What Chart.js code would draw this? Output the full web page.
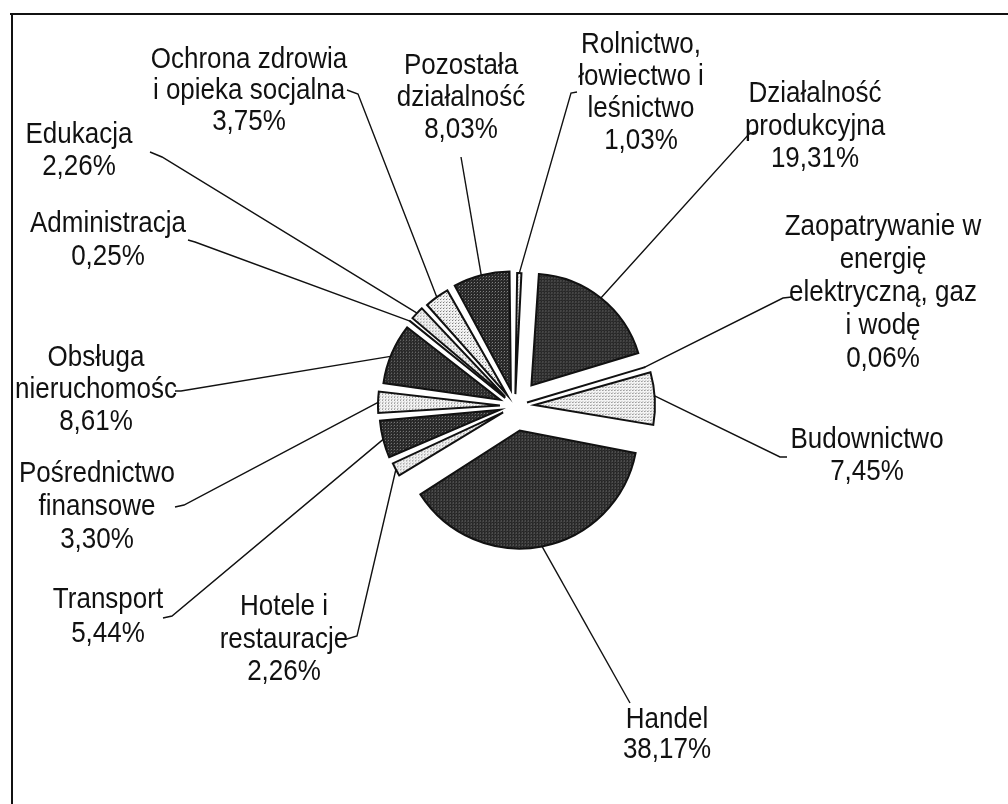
<!DOCTYPE html>
<html>
<head>
<meta charset="utf-8">
<script src="https://cdn.jsdelivr.net/npm/chart.js@4.4.0/dist/chart.umd.min.js"></script>
<style>
    html, body { margin: 0; padding: 0; background: #fff; }
</style>
</head>
<body>
<canvas id="pieChart" width="1008" height="804"></canvas>
<script>
// dane wykresu (kolejnosc zgodna z ruchem wskazowek zegara od gory)
var categories = ['Rolnictwo, łowiectwo i leśnictwo', 'Działalność produkcyjna',
    'Zaopatrywanie w energię elektryczną, gaz i wodę', 'Budownictwo', 'Handel',
    'Hotele i restauracje', 'Transport', 'Pośrednictwo finansowe', 'Obsługa nieruchomośc',
    'Administracja', 'Edukacja', 'Ochrona zdrowia i opieka socjalna', 'Pozostała działalność'];
var values = [1.03, 19.31, 0.06, 7.45, 38.17, 2.26, 5.44, 3.30, 8.61, 0.25, 2.26, 3.75, 8.03];
var labelLines = [
    ['Rolnictwo,', 'łowiectwo i', 'leśnictwo'],
    ['Działalność', 'produkcyjna'],
    ['Zaopatrywanie w', 'energię', 'elektryczną, gaz', 'i wodę'],
    ['Budownictwo'],
    ['Handel'],
    ['Hotele i', 'restauracje'],
    ['Transport'],
    ['Pośrednictwo', 'finansowe'],
    ['Obsługa', 'nieruchomośc'],
    ['Administracja'],
    ['Edukacja'],
    ['Ochrona zdrowia', 'i opieka socjalna'],
    ['Pozostała', 'działalność']
];

// wyglad
var shade = ['light', 'dark', 'light', 'light', 'dark', 'light', 'dark', 'light', 'dark', 'light', 'light', 'light', 'dark'];
var explode = [23, 28, 25, 30, 33, 25, 26, 27, 24, 25, 25, 24, 25];

// polozenie opisow: srodek x, pierwsza linia bazowa y, odstep, punkty linii odniesienia, t = miejsce na luku
var labelPos = [
    { x: 641, y: 53, dy: 32, lead: [[577, 92], [571, 93]], t: 0.5 },
    { x: 815, y: 102, dy: 32.5, lead: [[757, 131], [749, 134]], t: 0.5 },
    { x: 883, y: 235, dy: 33, lead: [[792, 297], [783, 298]], t: 0.5 },
    { x: 867, y: 448, dy: 32, lead: [[787, 457], [780, 457]], t: 0.45 },
    { x: 667, y: 728, dy: 30, lead: [[630, 703]], t: 0.5 },
    { x: 284, y: 615, dy: 32.5, lead: [[347, 639], [357, 636]], t: 0.5 },
    { x: 108, y: 608, dy: 34, lead: [[163, 618], [172, 616]], t: 0.5 },
    { x: 97, y: 482, dy: 33, lead: [[175, 507], [184, 505]], t: 0.5 },
    { x: 96, y: 366, dy: 32, lead: [[175, 391], [181, 391]], t: 0.45 },
    { x: 108, y: 232, dy: 33, lead: [[188, 240], [195, 242]], t: 0.5 },
    { x: 79, y: 143, dy: 32, lead: [[150, 152], [162, 157]], t: 0.5 },
    { x: 249, y: 68, dy: 31, lead: [[347, 90], [358, 94]], t: 0.5 },
    { x: 461, y: 74, dy: 32, lead: [[461, 157]], t: 0.5 }
];

var total = values.reduce(function (a, b) { return a + b; }, 0);

function makePattern(base, dots) {
    var c = document.createElement('canvas');
    c.width = 3;
    c.height = 3;
    var g = c.getContext('2d');
    g.fillStyle = base;
    g.fillRect(0, 0, 3, 3);
    dots.forEach(function (d) {
        g.fillStyle = d[2];
        g.fillRect(d[0], d[1], 1, 1);
    });
    return g.createPattern(c, 'repeat');
}

var darkFill = makePattern('#262626', [[1, 1, '#8c8c8c'], [0, 2, '#4a4a4a']]);
var lightFill = makePattern('#f3f3f3', [[1, 1, '#6e6e6e'], [2, 0, '#bdbdbd']]);

// chart.js przesuwa wycinek o offset/4*(1+fix) - przeliczenie na piksele
function toOffset(d, v) {
    var circ = v / total * Math.PI * 2;
    var fix = 1 - Math.sin(Math.min(Math.PI, circ));
    return 4 * d / (1 + fix);
}

function fmt(v) {
    return v.toFixed(2).replace('.', ',') + '%';
}

var labelsPlugin = {
    id: 'labelsPlugin',
    afterDraw: function (chart) {
        var ctx = chart.ctx;
        var meta = chart.getDatasetMeta(0);
        ctx.save();

        // ramka
        ctx.strokeStyle = '#111';
        ctx.lineWidth = 2;
        ctx.beginPath();
        ctx.moveTo(10, 14);
        ctx.lineTo(1008, 14);
        ctx.moveTo(12, 13);
        ctx.lineTo(12, 804);
        ctx.stroke();

        // linie odniesienia
        ctx.lineWidth = 1.4;
        labelPos.forEach(function (p, i) {
            var arc = meta.data[i].getProps(['x', 'y', 'startAngle', 'endAngle', 'outerRadius'], true);
            var mid = (arc.startAngle + arc.endAngle) / 2;
            var a = arc.startAngle + p.t * (arc.endAngle - arc.startAngle);
            var ex = arc.x + Math.cos(mid) * explode[i] + Math.cos(a) * arc.outerRadius;
            var ey = arc.y + Math.sin(mid) * explode[i] + Math.sin(a) * arc.outerRadius;
            ctx.beginPath();
            ctx.moveTo(p.lead[0][0], p.lead[0][1]);
            for (var k = 1; k < p.lead.length; k++) {
                ctx.lineTo(p.lead[k][0], p.lead[k][1]);
            }
            ctx.lineTo(ex, ey);
            ctx.stroke();
        });

        // opisy
        ctx.fillStyle = '#111';
        ctx.textAlign = 'center';
        ctx.textBaseline = 'alphabetic';
        ctx.font = '26px "Liberation Sans", Arial, sans-serif';
        labelPos.forEach(function (p, i) {
            var lines = labelLines[i].concat([fmt(values[i])]);
            lines.forEach(function (t, j) {
                ctx.save();
                ctx.translate(p.x, p.y + j * p.dy);
                ctx.scale(1, 1.1);
                ctx.fillText(t, 0, 0);
                ctx.restore();
            });
        });
        ctx.restore();
    }
};

var ctx = document.getElementById('pieChart');
var pieChart = new Chart(ctx, {
    type: 'pie',
    data: {
        labels: categories,
        datasets: [
            {
                data: values,
                backgroundColor: shade.map(function (s) { return s === 'dark' ? darkFill : lightFill; }),
                borderColor: '#111',
                borderWidth: 2,
                borderJoinStyle: 'miter',
                offset: values.map(function (v, i) { return toOffset(explode[i], v); })
            }
        ]
    },
    options: {
        responsive: false,
        animation: false,
        events: [],
        rotation: 0,
        radius: 110,
        layout: { padding: { left: 22, top: 8, right: 0, bottom: 0 } },
        plugins: {
            legend: { display: false },
            tooltip: { enabled: false }
        }
    },
    plugins: [labelsPlugin]
});
</script>
</body>
</html>
